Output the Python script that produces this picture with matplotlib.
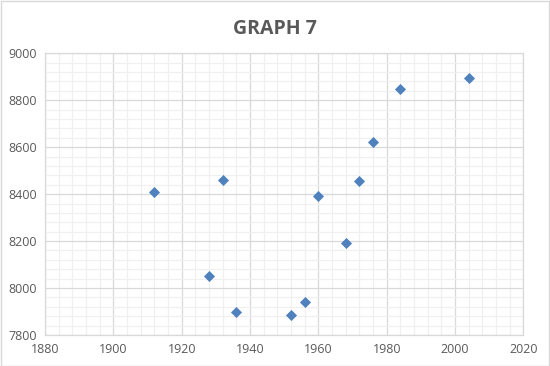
import matplotlib
matplotlib.use("Agg")
import matplotlib.pyplot as plt
from matplotlib.ticker import MultipleLocator
from matplotlib.patches import Rectangle

years = [1912, 1928, 1932, 1936, 1952, 1956, 1960, 1968, 1972, 1976, 1984, 2004]
scores = [8411, 8052, 8461, 7899, 7886, 7939, 8391, 8194, 8455, 8621, 8847, 8894]

title = "GRAPH 7"
text_color = "#595959"

fig = plt.figure(figsize=(5.5, 3.66), dpi=100)
ax = fig.add_axes([0.0818, 0.0847, 0.8697, 0.7697])

ax.scatter(years, scores, marker="D", s=32, color="#4F81BD", zorder=3, linewidths=0)

ax.set_xlim(1880, 2020)
ax.set_ylim(7800, 9000)
ax.xaxis.set_major_locator(MultipleLocator(20))
ax.xaxis.set_minor_locator(MultipleLocator(4))
ax.yaxis.set_major_locator(MultipleLocator(200))
ax.yaxis.set_minor_locator(MultipleLocator(40))
ax.grid(which="major", color="#D9D9D9", linewidth=0.9)
ax.grid(which="minor", color="#F0F0F0", linewidth=0.9)
ax.set_axisbelow(True)

for s in ax.spines.values():
    s.set_color("#D9D9D9")
    s.set_linewidth(0.9)

ax.tick_params(which="both", length=0, colors=text_color, labelsize=9, pad=6)
for lab in ax.get_xticklabels() + ax.get_yticklabels():
    lab.set_family("Open Sans")

# excel-ish spaced title
t = fig.text(0.5, 0.922, title, ha="center", va="center", fontsize=14,
             fontweight="bold", color=text_color, family="Open Sans")

fig.patches.append(Rectangle((0.001, 0.001), 0.997, 0.996, transform=fig.transFigure,
                             fill=False, edgecolor="#D9D9D9", linewidth=1))

fig.savefig("out.png", dpi=100)
